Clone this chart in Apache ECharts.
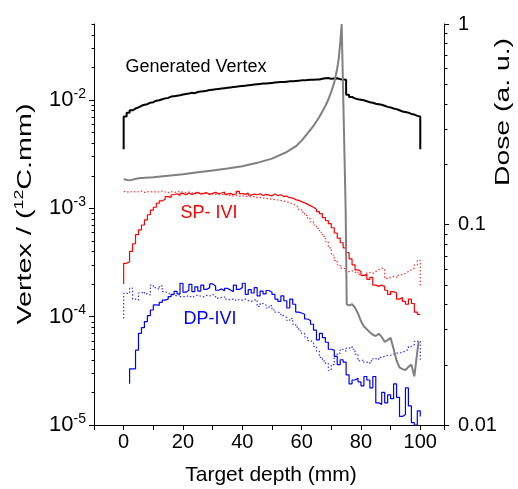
<!DOCTYPE html>
<html>
<head>
<meta charset="utf-8">
<script src="https://cdn.jsdelivr.net/npm/echarts@6/dist/echarts.min.js"></script>
<style>
  html, body { margin: 0; padding: 0; background: #fff; }
  #chart { width: 518px; height: 489px; }
</style>
</head>
<body>
<div id="chart"></div>
<script>
// histograms: 1 mm bins, value i covers [start + i, start + i + 1]
const vertexGen = [
  7.0e-3, 7.6e-3, 8.0e-3, 8.3e-3, 8.5e-3, 8.8e-3, 9.0e-3, 9.1e-3, 9.4e-3, 9.5e-3,
  9.8e-3, 9.9e-3, 1.01e-2, 1.03e-2, 1.04e-2, 1.07e-2, 1.08e-2, 1.09e-2, 1.10e-2, 1.12e-2,
  1.13e-2, 1.14e-2, 1.16e-2, 1.15e-2, 1.18e-2, 1.19e-2, 1.20e-2, 1.21e-2, 1.23e-2, 1.24e-2,
  1.25e-2, 1.26e-2, 1.27e-2, 1.28e-2, 1.29e-2, 1.30e-2, 1.31e-2, 1.32e-2, 1.33e-2, 1.34e-2,
  1.35e-2, 1.36e-2, 1.37e-2, 1.38e-2, 1.39e-2, 1.40e-2, 1.41e-2, 1.41e-2, 1.42e-2, 1.43e-2,
  1.44e-2, 1.45e-2, 1.46e-2, 1.46e-2, 1.47e-2, 1.48e-2, 1.48e-2, 1.49e-2, 1.50e-2, 1.51e-2,
  1.51e-2, 1.52e-2, 1.53e-2, 1.53e-2, 1.54e-2, 1.54e-2, 1.56e-2, 1.58e-2, 1.59e-2, 1.56e-2,
  1.57e-2, 1.58e-2, 1.55e-2, 1.54e-2, 1.53e-2, 1.11e-2, 1.06e-2, 1.03e-2, 1.01e-2, 1.00e-2,
  9.9e-3, 9.7e-3, 9.5e-3, 9.4e-3, 9.2e-3, 9.1e-3, 9.0e-3, 8.8e-3, 8.6e-3, 8.5e-3,
  8.3e-3, 8.2e-3, 8.0e-3, 7.8e-3, 7.7e-3, 7.6e-3, 7.4e-3, 7.3e-3, 7.1e-3, 7.0e-3
];
const vertexEdge = [3.5e-3, 3.5e-3];

const spSolid = [
  3.1e-4, 3.2e-4, 4.0e-4, 4.7e-4, 5.7e-4, 6.3e-4, 7.0e-4, 7.8e-4, 8.7e-4, 9.6e-4,
  1.02e-3, 1.11e-3, 1.17e-3, 1.21e-3, 1.28e-3, 1.26e-3, 1.33e-3, 1.36e-3, 1.31e-3, 1.37e-3,
  1.33e-3, 1.38e-3, 1.34e-3, 1.36e-3, 1.40e-3, 1.35e-3, 1.37e-3, 1.39e-3, 1.34e-3, 1.37e-3,
  1.40e-3, 1.36e-3, 1.38e-3, 1.41e-3, 1.35e-3, 1.37e-3, 1.33e-3, 1.36e-3, 1.43e-3, 1.36e-3,
  1.34e-3, 1.38e-3, 1.32e-3, 1.35e-3, 1.33e-3, 1.36e-3, 1.31e-3, 1.34e-3, 1.32e-3, 1.30e-3,
  1.35e-3, 1.31e-3, 1.33e-3, 1.28e-3, 1.29e-3, 1.25e-3, 1.24e-3, 1.20e-3, 1.18e-3, 1.15e-3,
  1.12e-3, 1.09e-3, 1.05e-3, 1.02e-3, 9.8e-4, 9.3e-4, 8.9e-4, 8.2e-4, 7.7e-4, 7.2e-4,
  6.6e-4, 5.9e-4, 5.3e-4, 4.8e-4, 4.3e-4, 3.9e-4, 3.4e-4, 3.0e-4, 2.7e-4, 2.6e-4,
  2.4e-4, 2.45e-4, 2.2e-4, 2.3e-4, 1.95e-4, 1.9e-4, 1.95e-4, 1.9e-4, 1.75e-4, 1.6e-4,
  1.7e-4, 1.65e-4, 1.45e-4, 1.5e-4, 1.38e-4, 1.3e-4, 1.45e-4, 1.32e-4, 1.1e-4, 1.05e-4
];
const spSolidEdge = [2.0e-4, null];

const spDot = [
  1.42e-3, 1.40e-3, 1.43e-3, 1.41e-3, 1.42e-3, 1.44e-3, 1.40e-3, 1.42e-3, 1.41e-3, 1.43e-3,
  1.40e-3, 1.42e-3, 1.44e-3, 1.41e-3, 1.39e-3, 1.42e-3, 1.40e-3, 1.41e-3, 1.43e-3, 1.40e-3,
  1.39e-3, 1.41e-3, 1.38e-3, 1.40e-3, 1.37e-3, 1.39e-3, 1.36e-3, 1.38e-3, 1.35e-3, 1.36e-3,
  1.34e-3, 1.35e-3, 1.33e-3, 1.34e-3, 1.31e-3, 1.32e-3, 1.30e-3, 1.31e-3, 1.29e-3, 1.30e-3,
  1.28e-3, 1.29e-3, 1.27e-3, 1.28e-3, 1.25e-3, 1.26e-3, 1.24e-3, 1.23e-3, 1.22e-3, 1.21e-3,
  1.20e-3, 1.19e-3, 1.18e-3, 1.16e-3, 1.15e-3, 1.12e-3, 1.10e-3, 1.06e-3, 1.02e-3, 9.7e-4,
  9.2e-4, 8.6e-4, 8.0e-4, 7.5e-4, 7.0e-4, 6.5e-4, 6.0e-4, 5.5e-4, 4.9e-4, 4.3e-4,
  3.7e-4, 3.3e-4, 3.0e-4, 2.8e-4, 2.75e-4, 2.6e-4, 2.65e-4, 2.55e-4, 2.6e-4, 2.45e-4,
  2.35e-4, 2.4e-4, 2.55e-4, 2.5e-4, 2.6e-4, 2.7e-4, 2.8e-4, 2.75e-4, 2.25e-4, 2.3e-4,
  2.35e-4, 2.3e-4, 2.4e-4, 2.45e-4, 2.5e-4, 2.6e-4, 2.7e-4, 2.8e-4, 3.0e-4, 3.3e-4
];
const spDotEdge = [null, 1.9e-4];

// DP solid starts at 2 mm
const dpSolid = [
  3.3e-5, 3.3e-5, 4.9e-5, 7.0e-5, 7.9e-5, 9.0e-5, 1.02e-4, 1.15e-4,
  1.28e-4, 1.27e-4, 1.35e-4, 1.42e-4, 1.45e-4, 1.53e-4, 1.60e-4, 1.71e-4, 1.62e-4, 2.03e-4,
  1.68e-4, 1.75e-4, 1.98e-4, 1.70e-4, 1.88e-4, 1.72e-4, 1.95e-4, 1.78e-4, 1.85e-4, 2.0e-4,
  1.92e-4, 1.75e-4, 1.80e-4, 1.73e-4, 1.82e-4, 1.76e-4, 1.70e-4, 1.95e-4, 1.78e-4, 1.85e-4,
  2.03e-4, 1.60e-4, 1.77e-4, 1.65e-4, 1.85e-4, 1.55e-4, 1.72e-4, 1.62e-4, 1.74e-4, 1.68e-4,
  1.60e-4, 1.45e-4, 1.38e-4, 1.55e-4, 1.40e-4, 1.20e-4, 1.45e-4, 1.30e-4, 1.10e-4, 1.08e-4,
  1.05e-4, 9.5e-5, 9.2e-5, 8.5e-5, 7.5e-5, 6.1e-5, 7.0e-5, 6.4e-5, 5.8e-5, 5.0e-5,
  4.9e-5, 4.3e-5, 3.6e-5, 4.0e-5, 3.8e-5, 2.9e-5, 2.4e-5, 2.6e-5, 2.7e-5, 2.5e-5,
  2.3e-5, 2.8e-5, 2.6e-5, 2.2e-5, 2.8e-5, 1.6e-5, 1.55e-5, 2.0e-5, 1.6e-5, 1.9e-5,
  1.75e-5, 2.4e-5, 1.8e-5, 1.2e-5, 1.25e-5, 2.2e-5, 1.5e-5, 1.05e-5, 1.0e-5, 1.35e-5
];
const dpSolidEdge = [2.4e-5, 1.2e-5];

const dpDot = [
  1.64e-4, 1.64e-4, 1.83e-4, 1.45e-4, 1.42e-4, 1.65e-4, 1.70e-4, 1.62e-4, 1.58e-4, 1.95e-4,
  1.85e-4, 1.78e-4, 1.92e-4, 1.70e-4, 1.65e-4, 1.60e-4, 1.58e-4, 1.55e-4, 1.60e-4, 1.53e-4,
  1.53e-4, 1.56e-4, 1.50e-4, 1.55e-4, 1.58e-4, 1.54e-4, 1.52e-4, 1.57e-4, 1.55e-4, 1.60e-4,
  1.55e-4, 1.48e-4, 1.50e-4, 1.52e-4, 1.45e-4, 1.42e-4, 1.46e-4, 1.40e-4, 1.44e-4, 1.42e-4,
  1.45e-4, 1.40e-4, 1.38e-4, 1.42e-4, 1.43e-4, 1.24e-4, 1.32e-4, 1.28e-4, 1.20e-4, 1.26e-4,
  1.15e-4, 1.10e-4, 1.07e-4, 1.02e-4, 9.8e-5, 9.2e-5, 9.6e-5, 8.5e-5, 8.0e-5, 7.4e-5,
  7.0e-5, 6.5e-5, 6.0e-5, 5.8e-5, 5.3e-5, 4.8e-5, 4.2e-5, 3.9e-5, 3.7e-5, 3.2e-5,
  3.6e-5, 4.3e-5, 4.6e-5, 5.0e-5, 4.8e-5, 5.1e-5, 5.3e-5, 5.0e-5, 4.5e-5, 3.9e-5,
  4.0e-5, 3.8e-5, 3.7e-5, 3.9e-5, 4.1e-5, 4.0e-5, 4.2e-5, 4.3e-5, 4.4e-5, 4.4e-5,
  4.5e-5, 4.6e-5, 4.6e-5, 4.7e-5, 4.8e-5, 5.0e-5, 5.3e-5, 5.5e-5, 5.9e-5, 6.0e-5
];
const dpDotEdge = [9.6e-5, 4.0e-5];

// dose curve (right axis)
const doseDepth = [0, 2, 5, 10, 15, 20, 25, 30, 35, 40, 45, 50, 55, 58, 60, 62, 64, 66, 68, 69,
  70, 71, 72, 72.5, 73, 73.5, 74.85, 75.2, 76, 77, 78, 79, 80, 81, 82, 83, 84, 85, 86, 87,
  88, 89, 90, 91, 92, 93, 94, 95, 96, 97, 98, 98.5, 99.4];
const doseVal = [0.168, 0.166, 0.170, 0.172, 0.175, 0.178, 0.182, 0.186, 0.190, 0.195, 0.203,
  0.213, 0.230, 0.245, 0.262, 0.285, 0.31, 0.345, 0.39, 0.42, 0.46, 0.51, 0.6, 0.67, 0.8, 1.0,
  0.117, 0.040, 0.0395, 0.040, 0.0385, 0.036, 0.033, 0.031, 0.030, 0.029, 0.0282, 0.0278,
  0.0285, 0.0275, 0.026, 0.0265, 0.0272, 0.024, 0.021, 0.0194, 0.019, 0.0188, 0.0195, 0.020,
  0.0175, 0.0172, 0.026];

const xTickLabels = [0, 20, 40, 60, 80, 100];

const FONT = "'Liberation Sans', Arial, sans-serif";
const X_MIN = -10, X_MAX = 108;

function histo(start, vals, edge) {
  const pts = [];
  if (edge[0] != null) pts.push([start, edge[0]]);
  vals.forEach((v, i) => pts.push([start + i, v]));
  pts.push([start + vals.length, vals[vals.length - 1]]);
  if (edge[1] != null) pts.push([start + vals.length, edge[1]]);
  return pts;
}

// minor ticks 2..9 per decade
function minorTicks(lo, hi) {
  const out = [];
  for (let e = Math.floor(Math.log10(lo)); e < Math.log10(hi); e++) {
    for (let k = 2; k <= 9; k++) {
      const v = k * Math.pow(10, e);
      if (v > lo && v <= hi * 1.0001) out.push(v);
    }
  }
  return out;
}

function tickSeries(axisIdx, xVal, dir, vals) {
  return {
    type: 'custom', xAxisIndex: 0, yAxisIndex: axisIdx, silent: true, clip: false, z: 10,
    data: vals.map(v => [xVal, v]),
    renderItem: (params, api) => {
      const p = api.coord([api.value(0), api.value(1)]);
      const x = Math.round(p[0]) + 0.5;
      const y = Math.round(p[1]) + 0.5;
      return { type: 'line', shape: { x1: x, y1: y, x2: x + dir * 3, y2: y },
        style: { stroke: '#000', lineWidth: 1 } };
    }
  };
}

function stepLine(data, color, width, dash, yIdx) {
  return {
    type: 'line', step: 'end', data: data, yAxisIndex: yIdx || 0, symbol: 'none',
    lineStyle: { color: color, width: width, type: dash || 'solid' }, z: 3
  };
}

const chart = echarts.init(document.getElementById('chart'), null, { renderer: 'canvas' });

chart.setOption({
  animation: false,
  backgroundColor: '#fff',
  grid: { left: 94, right: 74, top: 24, bottom: 64 },
  xAxis: {
    type: 'value', min: X_MIN, max: X_MAX, interval: 10,
    axisLine: { show: true, onZero: false, lineStyle: { color: '#000', width: 1 } },
    axisTick: { show: true, length: 5, lineStyle: { color: '#000' } },
    axisLabel: {
      color: '#000', fontSize: 20, fontFamily: FONT, margin: 7,
      formatter: v => xTickLabels.indexOf(v) >= 0 ? String(v) : ''
    },
    splitLine: { show: false }
  },
  yAxis: [{
    type: 'log', logBase: 10, min: 1e-5, max: 0.05, position: 'left',
    axisLine: { show: true, onZero: false, lineStyle: { color: '#000', width: 1 } },
    axisTick: { show: true, length: 5, lineStyle: { color: '#000' } },
    axisLabel: {
      showMaxLabel: false, margin: 8,
      formatter: v => '{b|10}{s|' + Math.round(Math.log10(v)) + '}',
      rich: {
        b: { fontSize: 22, fontFamily: FONT, color: '#000', lineHeight: 26 },
        s: { fontSize: 14, fontFamily: FONT, color: '#000', lineHeight: 14, verticalAlign: 'top' }
      }
    },
    splitLine: { show: false }
  }, {
    type: 'log', logBase: 10, min: 0.01, max: 1, position: 'right',
    axisLine: { show: true, onZero: false, lineStyle: { color: '#000', width: 1 } },
    axisTick: { show: true, length: 5, lineStyle: { color: '#000' } },
    axisLabel: {
      color: '#000', fontSize: 20, fontFamily: FONT, margin: 14,
      formatter: v => String(Number(v.toPrecision(2)))
    },
    splitLine: { show: false }
  }],
  graphic: [
    { type: 'text', x: 25, y: 214, rotation: Math.PI / 2, scaleX: 1.37,
      style: { text: '{a|Vertex / (}{s|12}{a|C.mm)}', textAlign: 'center', textVerticalAlign: 'middle',
        align: 'center', verticalAlign: 'middle',
        rich: { a: { fontSize: 21, fontFamily: FONT, fill: '#000', color: '#000', lineHeight: 24 },
                s: { fontSize: 13, fontFamily: FONT, fill: '#000', color: '#000', lineHeight: 13, verticalAlign: 'top' } } } },
    { type: 'text', x: 503, y: 112, rotation: Math.PI / 2, scaleX: 1.35,
      style: { text: 'Dose (a. u.)', font: '21px ' + FONT, fill: '#000',
        textAlign: 'center', textVerticalAlign: 'middle', align: 'center', verticalAlign: 'middle' } },
    { type: 'text', x: 271, y: 475,
      style: { text: 'Target depth (mm)', font: '21px ' + FONT, fill: '#000',
        textAlign: 'center', textVerticalAlign: 'middle', align: 'center', verticalAlign: 'middle' } },
    { type: 'text', x: 196, y: 67,
      style: { text: 'Generated Vertex', font: '18px ' + FONT, fill: '#000',
        textAlign: 'center', textVerticalAlign: 'middle', align: 'center', verticalAlign: 'middle' } },
    { type: 'text', x: 209, y: 213,
      style: { text: 'SP- IVI', font: '18px ' + FONT, fill: '#ff0000',
        textAlign: 'center', textVerticalAlign: 'middle', align: 'center', verticalAlign: 'middle' } },
    { type: 'text', x: 210, y: 319,
      style: { text: 'DP-IVI', font: '18px ' + FONT, fill: '#0000ff',
        textAlign: 'center', textVerticalAlign: 'middle', align: 'center', verticalAlign: 'middle' } }
  ],
  series: [
    stepLine(histo(0, vertexGen, vertexEdge), '#000', 2),
    stepLine(histo(0, spDot, spDotEdge), '#ff3333', 1.2, [1.5, 2]),
    stepLine(histo(0, spSolid, spSolidEdge), '#ff0000', 1.2),
    stepLine(histo(0, dpDot, dpDotEdge), '#3333ff', 1.2, [1.5, 2]),
    stepLine(histo(2, dpSolid, dpSolidEdge), '#0000ff', 1.2),
    {
      type: 'line', yAxisIndex: 1, symbol: 'none', z: 4,
      data: doseDepth.map((d, i) => [d, doseVal[i]]),
      lineStyle: { color: '#808080', width: 2 }
    },
    tickSeries(0, X_MIN, -1, minorTicks(1e-5, 0.05)),
    tickSeries(1, X_MAX, 1, minorTicks(0.01, 1))
  ]
});
</script>
</body>
</html>
